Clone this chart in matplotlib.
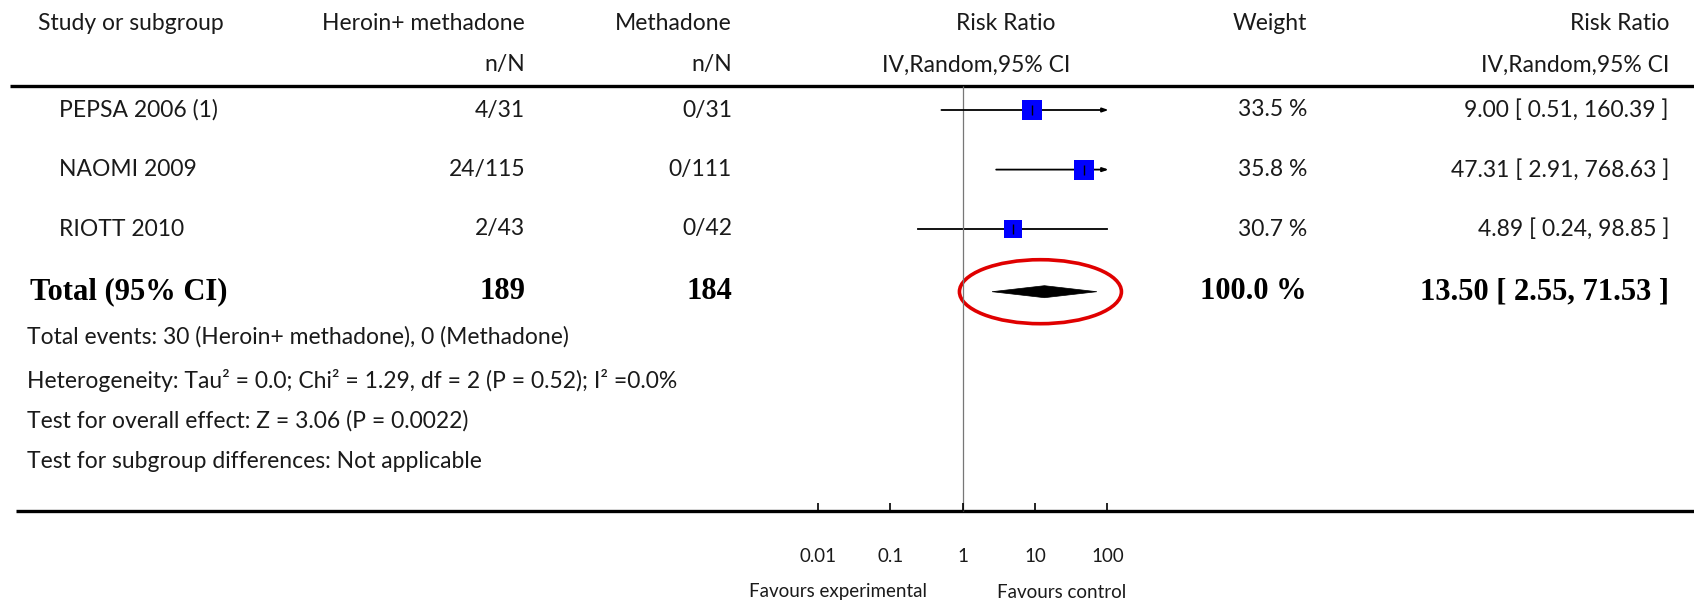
import numpy as np
import matplotlib
matplotlib.use("Agg")
import matplotlib.pyplot as plt
from matplotlib.patches import Polygon, Ellipse

# ---- data ----------------------------------------------------------------
studies = ["PEPSA 2006 (1)", "NAOMI 2009", "RIOTT 2010"]
exp_nN = ["4/31", "24/115", "2/43"]
ctl_nN = ["0/31", "0/111", "0/42"]
rr = [9.00, 47.31, 4.89]
ci_lo = [0.51, 2.91, 0.24]
ci_hi = [160.39, 768.63, 98.85]
weights = [33.5, 35.8, 30.7]

total_exp = 189
total_ctl = 184
pooled_rr = 13.50
pooled_lo = 2.55
pooled_hi = 71.53
total_weight = 100.0

footnotes = [
    "Total events: 30 (Heroin+ methadone), 0 (Methadone)",
    "Heterogeneity: Tau\u00b2 = 0.0; Chi\u00b2 = 1.29, df = 2 (P = 0.52); I\u00b2 =0.0%",
    "Test for overall effect: Z = 3.06 (P = 0.0022)",
    "Test for subgroup differences: Not applicable",
]
tick_vals = [0.01, 0.1, 1, 10, 100]
tick_labels = ["0.01", "0.1", "1", "10", "100"]
plot_max = 100

# ---- layout (pixels) -----------------------------------------------------
W, H = 1694, 603
X0, DEC = 962.6, 72.4          # pixel of RR=1, pixels per decade
row_y = [110, 169.6, 229]
total_y = 291.7
foot_y = [337, 380, 421, 462]

SANS = "Lato"
SERIF = "Liberation Serif"
fs = 16.5
fs_bold = 22
fs_axis = 13.5
col = "#1a1a1a"

fig = plt.figure(figsize=(W / 100, H / 100), dpi=100)
ax = fig.add_axes([0, 0, 1, 1])
ax.set_xlim(0, W)
ax.set_ylim(H, 0)
ax.axis("off")

fp = fig.add_axes([0, 0, 1, 1])
fp.set_xscale("log")
fp.set_xlim(10 ** (-X0 / DEC), 10 ** ((W - X0) / DEC))
fp.set_ylim(H, 0)
fp.axis("off")
fp.patch.set_alpha(0)

def px(v):
    return X0 + DEC * np.log10(v)

# headers
ax.text(38, 24, "Study or subgroup", fontsize=fs, family=SANS, color=col, va="center")
ax.text(525, 24, "Heroin+ methadone", fontsize=fs, family=SANS, color=col, va="center", ha="right")
ax.text(525, 65, "n/N", fontsize=fs, family=SANS, color=col, va="center", ha="right")
ax.text(732, 24, "Methadone", fontsize=fs, family=SANS, color=col, va="center", ha="right")
ax.text(732, 65, "n/N", fontsize=fs, family=SANS, color=col, va="center", ha="right")
ax.text(1006, 24, "Risk Ratio", fontsize=fs, family=SANS, color=col, va="center", ha="center")
ax.text(976, 65, "IV,Random,95% CI", fontsize=fs, family=SANS, color=col, va="center", ha="center")
ax.text(1307, 24, "Weight", fontsize=fs, family=SANS, color=col, va="center", ha="right")
ax.text(1669, 24, "Risk Ratio", fontsize=fs, family=SANS, color=col, va="center", ha="right")
ax.text(1669, 65, "IV,Random,95% CI", fontsize=fs, family=SANS, color=col, va="center", ha="right")

ax.hlines(86.4, 10, W, color="black", lw=2.4)
ax.hlines(511, 16, W, color="black", lw=2.4)

# study rows
for i, y in enumerate(row_y):
    ax.text(59, y, studies[i], fontsize=fs, family=SANS, color=col, va="center")
    ax.text(525, y, exp_nN[i], fontsize=fs, family=SANS, color=col, va="center", ha="right")
    ax.text(732, y, ctl_nN[i], fontsize=fs, family=SANS, color=col, va="center", ha="right")
    ax.text(1307, y, f"{weights[i]:.1f} %", fontsize=fs, family=SANS, color=col, va="center", ha="right")
    ax.text(1669, y, f"{rr[i]:.2f} [ {ci_lo[i]:.2f}, {ci_hi[i]:.2f} ]", fontsize=fs,
            family=SANS, color=col, va="center", ha="right")

    hi = min(ci_hi[i], plot_max)
    if ci_hi[i] > plot_max:
        fp.annotate("", xy=(hi * 1.04, y), xytext=(ci_lo[i], y),
                    arrowprops=dict(arrowstyle="-|>,head_length=0.35,head_width=0.12",
                                    color="black", lw=1.3, shrinkA=0, shrinkB=0))
    else:
        fp.plot([ci_lo[i], hi], [y, y], color="black", lw=1.3)
    fp.plot(rr[i], y, marker="s", color="#0000ff", ms=weights[i] * 0.42, mew=0, zorder=3)
    fp.plot(rr[i], y, marker="|", color="black", ms=7, mew=1, zorder=4)

# total row
ax.text(30, total_y, "Total (95% CI)", fontsize=fs_bold, family=SERIF, weight="bold", va="center")
ax.text(525, total_y, str(total_exp), fontsize=fs_bold, family=SERIF, weight="bold", va="center", ha="right")
ax.text(732, total_y, str(total_ctl), fontsize=fs_bold, family=SERIF, weight="bold", va="center", ha="right")
ax.text(1307, total_y, f"{total_weight:.1f} %", fontsize=fs_bold, family=SERIF, weight="bold",
        va="center", ha="right")
ax.text(1669, total_y, f"{pooled_rr:.2f} [ {pooled_lo:.2f}, {pooled_hi:.2f} ]", fontsize=fs_bold,
        family=SERIF, weight="bold", va="center", ha="right")

dh = 6
fp.add_patch(Polygon([(pooled_lo, total_y), (pooled_rr, total_y - dh),
                      (pooled_hi, total_y), (pooled_rr, total_y + dh)],
                     closed=True, facecolor="black", edgecolor="black", lw=0.5, zorder=3))

# red highlight ellipse around pooled diamond
ax.add_patch(Ellipse((px(pooled_rr) - 4, total_y), 162, 64, fill=False,
                     edgecolor="#e00000", lw=2.6, zorder=5))

# footnotes
for t, y in zip(footnotes, foot_y):
    ax.text(27, y, t, fontsize=fs, family=SANS, color=col, va="center")

# null line, axis ticks and labels
fp.vlines(1, 86.4, 511, color="#777777", lw=0.9)
fp.vlines(tick_vals, 503, 511, color="black", lw=1.2)
for v, lab in zip(tick_vals, tick_labels):
    fp.text(v, 557, lab, fontsize=fs_axis, family=SANS, color=col, ha="center", va="center")

fp.text(10 ** ((927 - X0) / DEC), 592, "Favours experimental", fontsize=fs_axis, family=SANS,
        color=col, ha="right", va="center")
fp.text(10 ** ((1062 - X0) / DEC), 592, "Favours control", fontsize=fs_axis, family=SANS,
        color=col, ha="center", va="center")

fig.savefig("out.png", dpi=100)
